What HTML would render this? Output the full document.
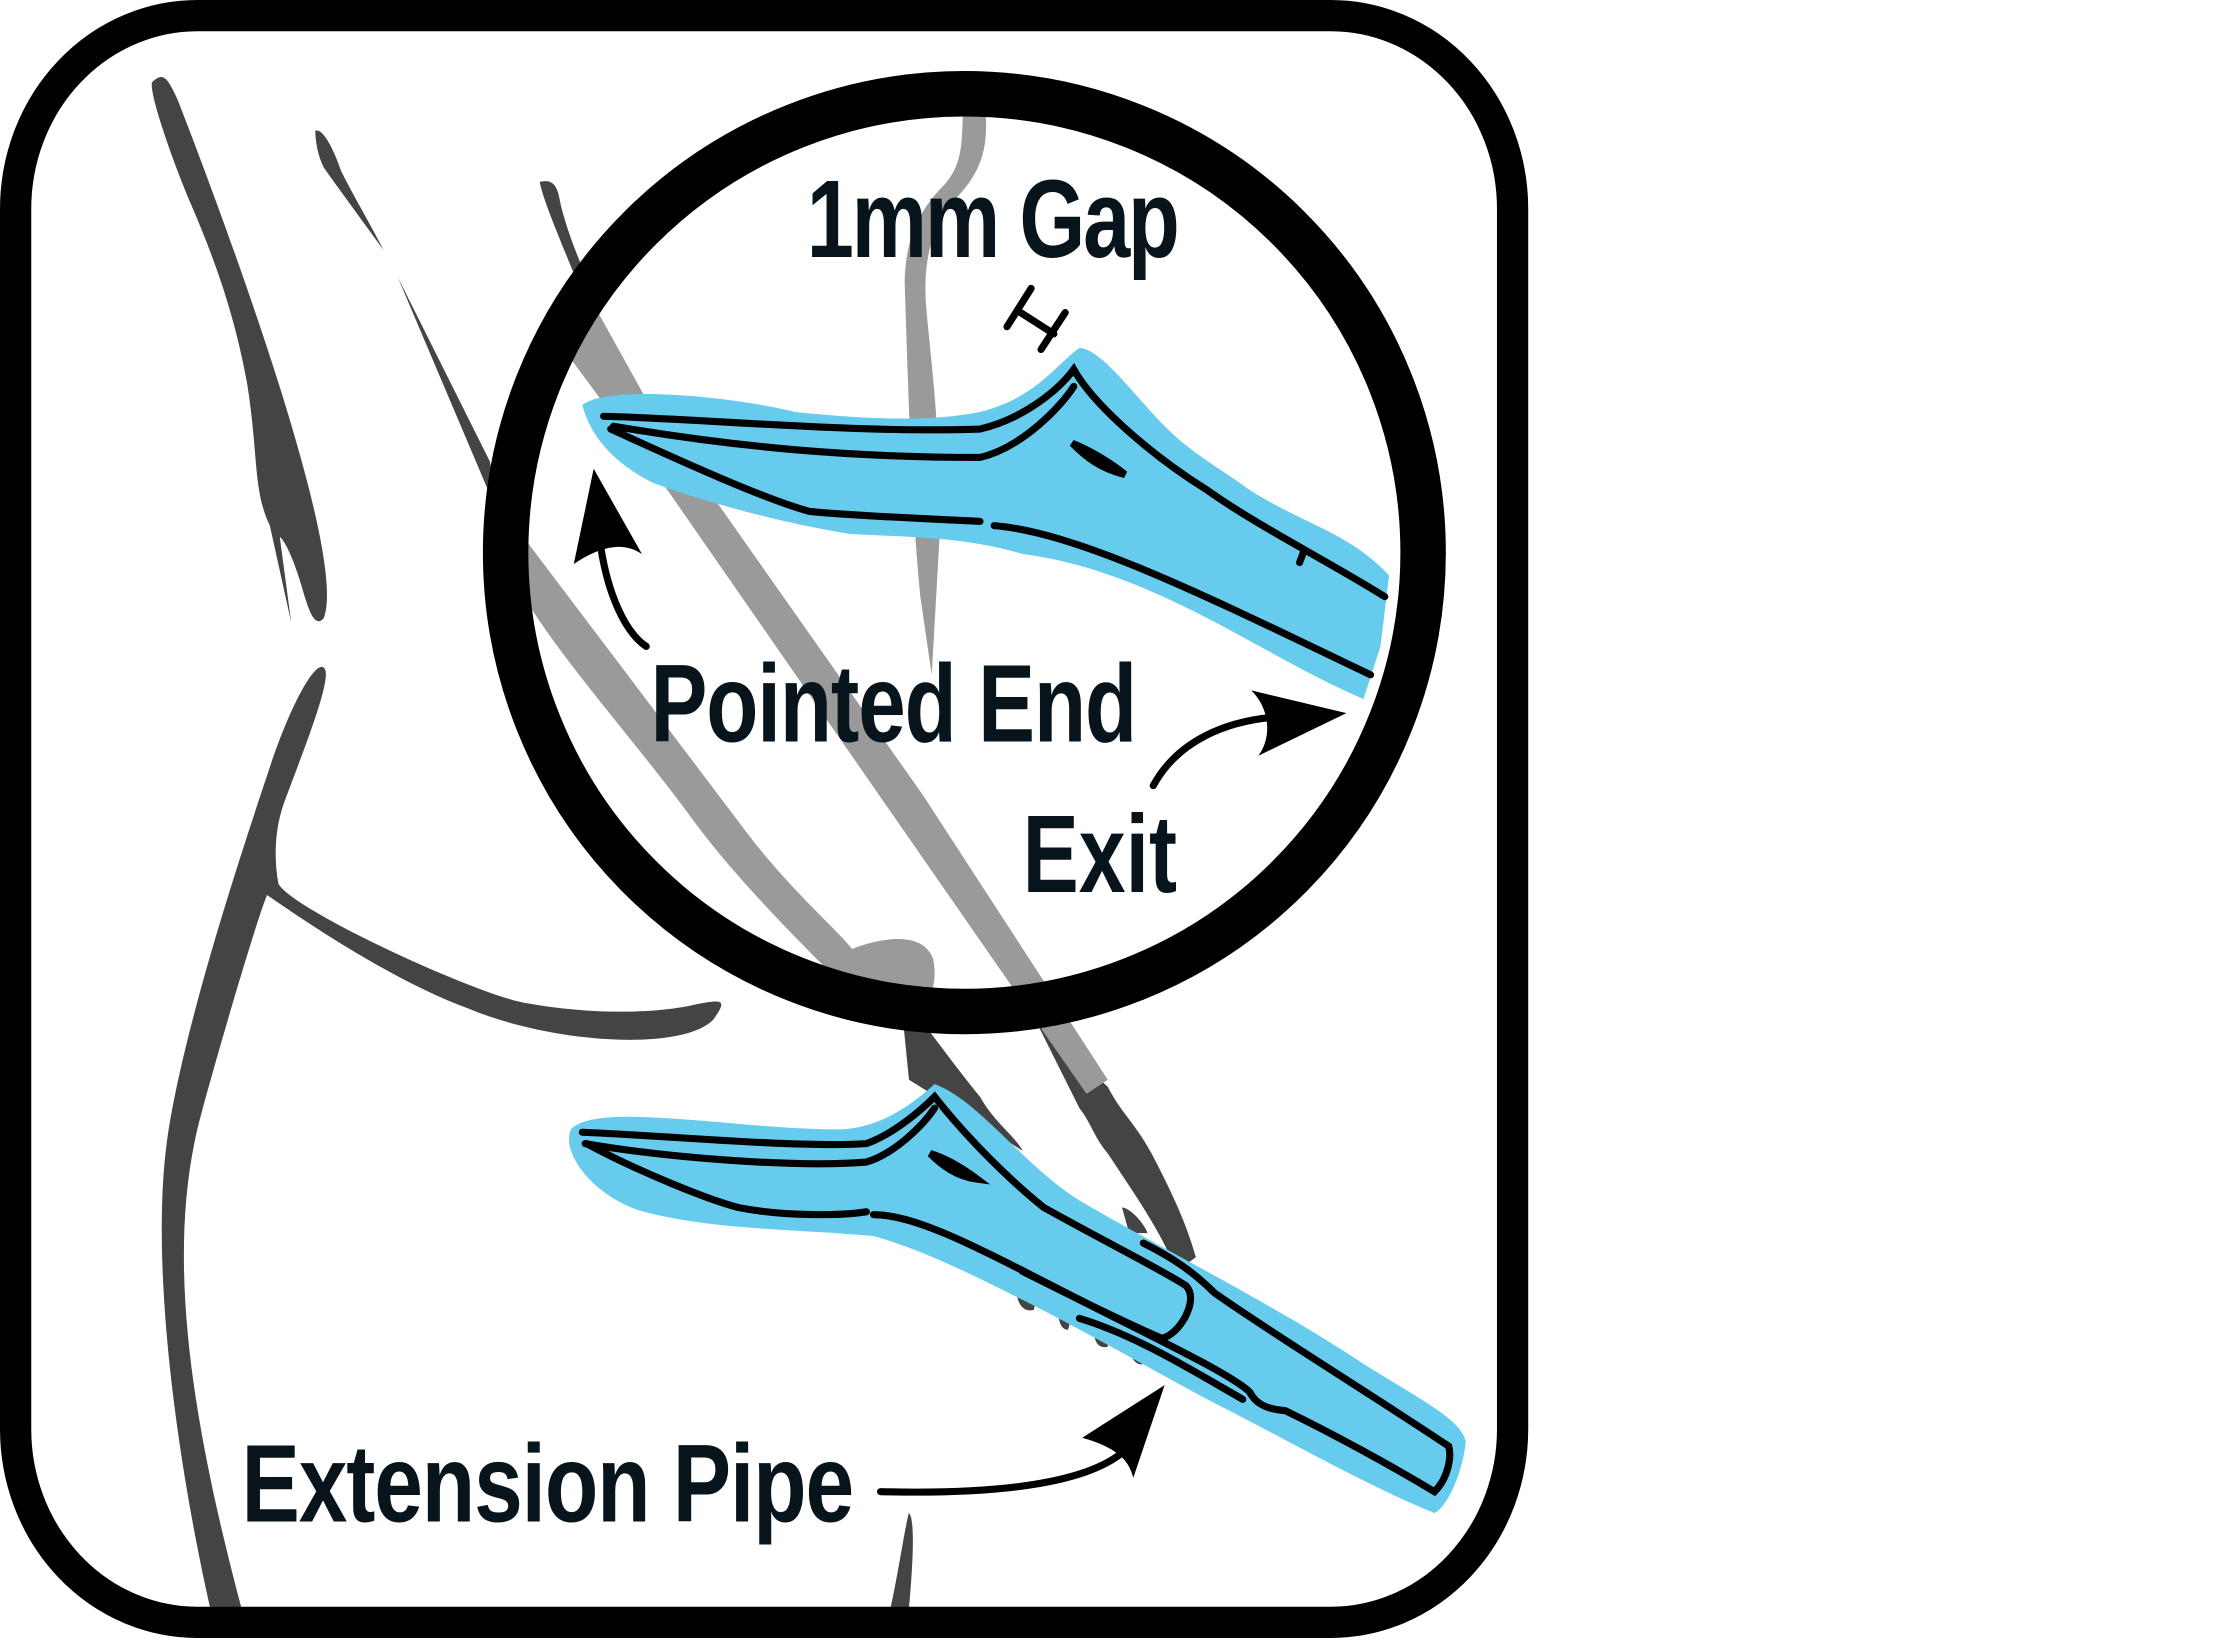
<!DOCTYPE html>
<html><head><meta charset="utf-8"><style>
html,body{margin:0;padding:0;background:#fff;}
svg{display:block;}
text{font-family:"Liberation Sans",sans-serif;font-weight:bold;fill:#07141c;}
</style></head><body>
<svg width="2227" height="1638" viewBox="0 0 1568 1153" preserveAspectRatio="none" xmlns="http://www.w3.org/2000/svg">
<rect x="0" y="0" width="1568" height="1153" fill="#fff"/>
<g fill="#444">
<path d="M107,58 C115,50 118,55 125,70 C160,160 245,390 228,435 C220,445 215,420 210,405 C205,390 200,380 197,378 L205,438 L190,370 C178,345 182,320 174,270 C165,220 150,180 135,145 C120,110 105,65 107,58Z"/>
<path d="M222,92 C228,90 236,108 240,120 C250,140 262,160 270,176 C260,162 240,135 228,118 C224,110 222,100 222,92Z"/>
<path d="M280,195 L345,325 L350,360 Z"/>
<path d="M380,128 C392,125 393,135 395,145 C400,165 410,190 420,210 L405,195 C395,170 382,140 380,128Z"/>
<path d="M228,470 C235,475 215,525 200,565 C193,585 193,605 196,622 C205,640 335,700 370,706 C420,715 465,713 490,707 C510,703 512,704 502,718 C480,740 390,735 330,710 C270,688 200,638 188,630 C180,650 155,735 142,783 C115,880 135,1000 170,1132 L148,1132 C125,1030 105,890 118,800 C130,720 170,600 190,540 C205,495 222,465 228,470Z"/>
<path d="M640,1065 C645,1070 642,1110 640,1132 L627,1132 C632,1110 638,1070 640,1065Z"/>
<path d="M636,720 L650,720 C665,740 680,760 690,772 C700,790 715,800 720,810 L640,760 Z"/>
<path d="M730,720 L780,765 C790,785 800,790 815,820 C825,840 835,860 842,885 L828,895 C820,870 795,835 780,812 C770,800 768,790 760,780 Z"/>
<path d="M790,850 C795,850 805,860 808,868 L795,868Z"/>
<path d="M715,905 L730,910 L728,922 C720,924 716,918 715,905Z"/>
<path d="M745,920 L755,925 L752,936 C746,936 745,928 745,920Z"/>
<path d="M770,935 L780,940 L780,948 C772,950 770,942 770,935Z"/>
<path d="M795,950 L808,958 C805,962 798,962 795,950Z"/>
</g>
<g fill="#9a9a9a">
<path d="M678,80 L694,80 C696,110 688,125 668,145 C655,165 650,185 652,215 C655,250 662,300 662,370 L656,475 L648,420 C642,360 640,290 637,200 C637,165 650,145 665,130 C678,115 677,100 678,80Z"/>
<path d="M410,200 L460,290 L650,560 L780,760 L765,770 L640,590 L470,345 L400,250Z"/>
<path d="M370,380 L525,585 C555,625 590,655 600,668 C620,660 650,655 657,675 C660,690 656,700 652,705 L590,690 C560,660 520,620 490,580 C450,525 400,470 372,425Z"/>
</g>
<rect x="11" y="11" width="1054" height="1131" rx="128" ry="136" fill="none" stroke="#000" stroke-width="22"/>
<circle cx="679" cy="389" r="323" fill="none" stroke="#000" stroke-width="32"/>
<path d="M410,285 C430,270 520,280 560,290 C600,294 650,298 690,290 C730,280 745,255 760,245 C775,245 800,280 820,300 C840,320 860,330 880,345 C920,370 950,375 978,405 L972,455 L960,492 C920,475 880,450 840,430 C800,410 760,395 720,390 C680,378 640,378 600,376 C560,370 500,355 460,340 C430,325 415,305 410,285Z" fill="#67cbee"/>
<g fill="none" stroke="#000" stroke-width="5" stroke-linecap="round">
<path d="M425,293 C500,295 600,305 690,302 C720,295 745,275 756,260 C770,285 810,320 850,345 C885,370 935,395 975,420"/>
<path d="M432,300 C520,315 600,322 690,322 C720,315 748,285 756,272"/>
<path d="M430,302 C480,325 540,352 570,360 C600,363 650,365 690,367"/>
<path d="M700,370 C760,375 850,420 965,475"/>
<path d="M755,312 C770,318 785,328 792,334 C775,330 765,322 755,312Z" fill="#000"/>
<path d="M918,388 L915,396"/>
</g>
<path d="M402,795 C420,775 520,795 590,795 C620,795 645,775 658,763 C690,775 720,820 760,845 C820,880 900,920 960,960 C1000,985 1030,1000 1032,1015 C1030,1035 1020,1060 1010,1065 C960,1045 900,1010 850,985 C800,958 760,935 720,915 C680,895 650,880 615,870 C560,865 500,866 450,852 C415,840 395,810 402,795Z" fill="#67cbee"/>
<g fill="none" stroke="#000" stroke-width="5" stroke-linecap="round">
<path d="M410,797 C480,800 560,808 610,805 C630,798 650,780 658,772 C680,800 710,830 735,850 C780,875 820,895 835,905 C845,915 830,940 818,942 C790,930 760,915 720,895"/>
<path d="M412,805 C470,815 560,822 610,818 C630,812 650,792 658,780"/>
<path d="M413,805 C450,825 500,845 520,850 C550,856 590,856 610,853"/>
<path d="M615,855 C650,855 700,885 790,930 C830,950 870,970 880,980 C885,990 895,992 905,993 C940,1010 980,1032 1010,1050 C1020,1040 1022,1025 1020,1018 C960,978 890,935 855,910 C840,895 825,885 805,875"/>
<path d="M760,928 C800,940 840,965 875,985"/>
<path d="M655,812 C668,816 680,824 688,830 C673,828 663,820 655,812Z" fill="#000"/>
</g>
<g stroke="#000" stroke-width="5" stroke-linecap="round" fill="none">
<path d="M709,230 L726,203 M717,219 L742,235 M733,246 L750,220"/>
</g>
<g stroke="#000" stroke-width="5" fill="none" stroke-linecap="round">
<path d="M455,455 C440,445 428,418 423,385"/>
<path d="M812,553 C830,520 865,508 895,505"/>
<path d="M620,1050 C700,1052 770,1045 795,1018"/>
</g>
<g fill="#000">
<path d="M418,330 L452,390 C440,382 425,383 404,397 Z"/>
<path d="M881,486 L948,502 L886,532 C895,520 895,500 881,486 Z"/>
<path d="M820,975 L798,1040 C795,1030 790,1020 762,1012 Z"/>
</g>
<g>
<text x="0" y="0" font-size="78" transform="translate(568,181) scale(0.765,1)" letter-spacing="-2">1mm Gap</text>
<text x="0" y="0" font-size="78" transform="translate(458,522) scale(0.77,1)" letter-spacing="-1">Pointed End</text>
<text x="0" y="0" font-size="78" transform="translate(720,628) scale(0.76,1)">Exit</text>
<text x="0" y="0" font-size="78" transform="translate(170,1071) scale(0.79,1)" letter-spacing="-1">Extension Pipe</text>
</g>
</svg>
</body></html>
